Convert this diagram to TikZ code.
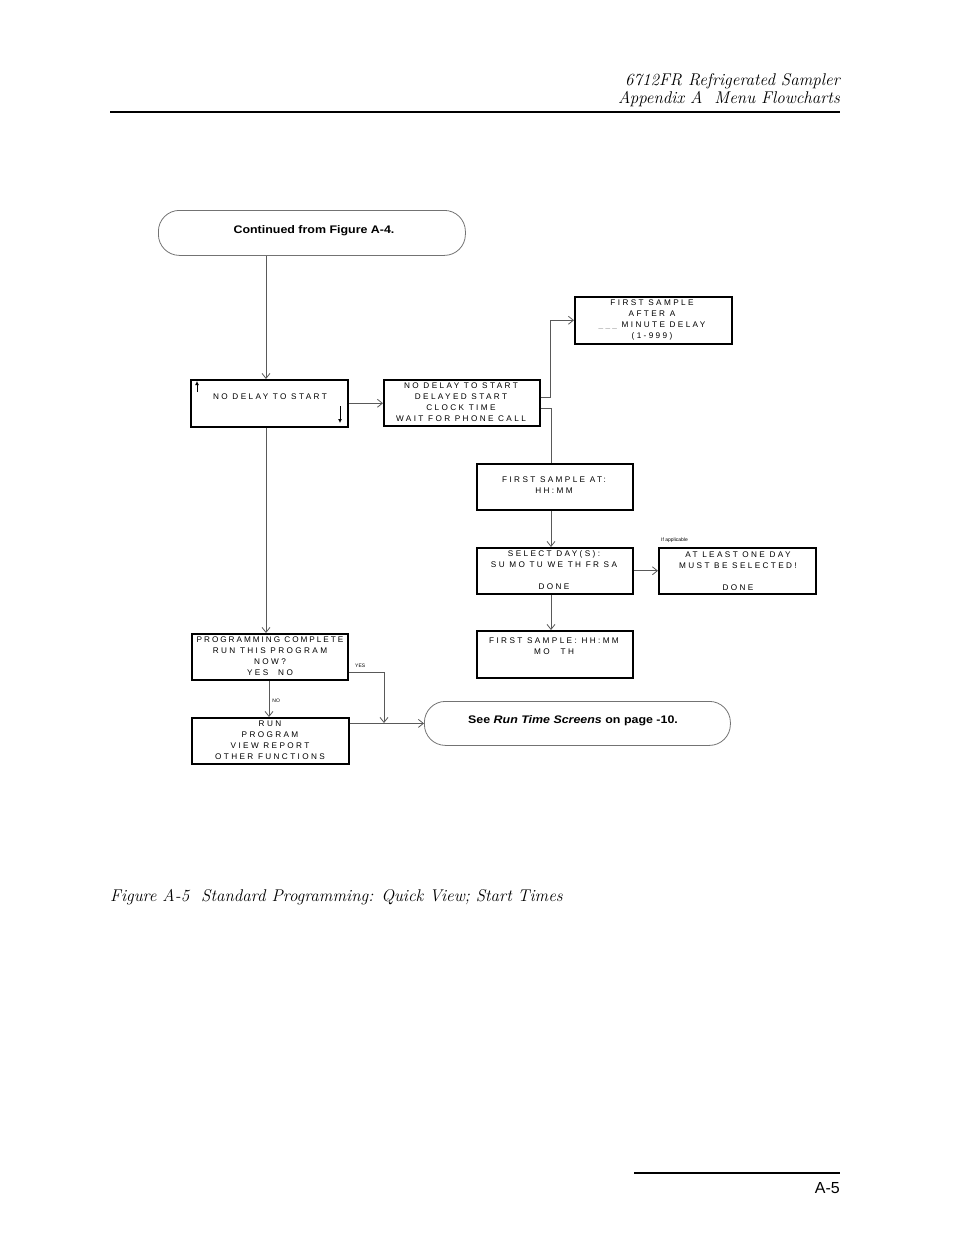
\documentclass[tikz,border=0pt]{standalone}
\usepackage{fontspec}
\newfontfamily\lcdfont[LetterSpace=29]{Liberation Sans}
\newfontfamily\lcdtight[LetterSpace=24]{Liberation Sans}
\newfontfamily\helv{Liberation Sans}
\newfontfamily\helvwide[FakeStretch=1.13]{Liberation Sans}
\usetikzlibrary{arrows.meta}
\begin{document}
\begin{tikzpicture}[x=1pt,y=-1pt,
  screen/.style={draw=black, line width=1.5pt, rectangle, inner sep=0pt, anchor=north west},
  terminal/.style={draw=black!55, line width=0.8pt, rectangle, rounded corners=21pt, inner sep=0pt, anchor=north west},
  lcd/.style={font=\lcdfont\fontsize{8.2}{11}\selectfont, align=center, inner sep=0pt, anchor=north},
  boldtxt/.style={font=\helvwide\bfseries\fontsize{11}{13}\selectfont, inner sep=0pt},
  tiny/.style={font=\helv\fontsize{5}{6}\selectfont, inner sep=0pt, anchor=west},
  conn/.style={draw=black!65, line width=0.8pt},
  arr/.style={conn, -{Straight Barb[length=5pt,width=8pt]}},
  serifit/.style={font=\itshape\fontsize{17}{19}\selectfont, inner sep=0pt}
]
\useasboundingbox (0,0) rectangle (954,1235);

% header
\node[serifit, anchor=base east] (h1) at (840,85) {6712FR Refrigerated Sampler};
\node[serifit, anchor=base east] (h2) at (840,103.5) {Appendix A\ \ Menu Flowcharts};
\draw[line width=1.4pt] (110,112) -- (840,112);

% boxes
\node[terminal, minimum width=307pt, minimum height=45pt] (cont) at (158,210) {};
\node[boldtxt] (contt) at (314,230.5) {Continued from Figure A-4.};

\node[screen, minimum width=157pt, minimum height=47pt] (nodelay) at (190,379) {};
\node[lcd] (nodelayt) at (270,394) {NO DELAY TO START};
\draw[line width=0.8pt, -{Latex[length=4pt,width=4pt]}] (197,392) -- (197,381);
\draw[line width=0.8pt, -{Latex[length=4pt,width=4pt]}] (340,406) -- (340,423);

\node[screen, minimum width=156pt, minimum height=46pt] (startmenu) at (383,379) {};
\node[lcd] (startmenut) at (461,382.5) {NO DELAY TO START\\DELAYED START\\CLOCK TIME\\WAIT FOR PHONE CALL};

\node[screen, minimum width=157pt, minimum height=47pt] (delay) at (574,296) {};
\node[lcd] (delayt) at (652,299.5) {FIRST SAMPLE\\AFTER A\\\textcolor{black!40}{\_\_\_} MINUTE DELAY\\(1-999)};

\node[screen, minimum width=156pt, minimum height=46pt] (clock) at (476,463) {};
\node[lcd] (clockt) at (554,477) {FIRST SAMPLE AT:\\HH:MM};

\node[screen, minimum width=156pt, minimum height=46pt] (days) at (476,547) {};
\node[lcd] (dayst) at (554,550.5) {SELECT DAY(S):\\SU MO TU WE TH FR SA\\[11pt]DONE};

\node[screen, minimum width=157pt, minimum height=46pt] (atleast) at (658,547) {};
\node[lcd] (atleastt) at (738,551.5) {AT LEAST ONE DAY\\MUST BE SELECTED!\\[11pt]DONE};
\node[tiny] (ifapp) at (661,540) {If applicable};

\node[screen, minimum width=156pt, minimum height=47pt] (firsthh) at (476,630) {};
\node[lcd] (firsthht) at (554,638) {FIRST SAMPLE: HH:MM\\MO\hspace{11pt}TH};

\node[screen, minimum width=156pt, minimum height=46pt] (prog) at (191,633) {};
\node[lcd] (progt) at (270,636.5) {{\lcdtight PROGRAMMING COMPLETE}\\RUN THIS PROGRAM\\NOW?\\YES\hspace{10pt}NO};

\node[screen, minimum width=157pt, minimum height=46pt] (runmenu) at (191,717) {};
\node[lcd] (runmenut) at (270,720.5) {RUN\\PROGRAM\\VIEW REPORT\\OTHER FUNCTIONS};

\node[terminal, minimum width=306pt, minimum height=44pt] (seebox) at (424,701) {};
\node[boldtxt] (seet) at (573,720.5) {See \textit{Run Time Screens} on page -10.};

% column coordinates
\coordinate (xa) at (266,0);
\coordinate (xn) at (269,0);
\coordinate (xk) at (551,0);
\coordinate (j) at (384,723);

% connectors
\draw[arr] (cont.south -| xa) -- (nodelay.north -| xa);
\draw[arr] (nodelay.east) -- (nodelay.east -| startmenu.west);
\draw[arr] ([yshift=5pt]startmenu.east) -- ++(10,0) |- (delay.west);
\draw[conn] ([yshift=-6pt]startmenu.east) -- ([yshift=-6pt]startmenu.east -| xk) -- (clock.north -| xk);
\draw[arr] (clock.south -| xk) -- (days.north -| xk);
\draw[arr] (days.east) -- (atleast.west);
\draw[arr] (days.south -| xk) -- (firsthh.north -| xk);
\draw[arr] (nodelay.south -| xa) -- (prog.north -| xa);
\draw[arr] (prog.south -| xn) -- node[tiny, pos=0.55, xshift=3pt] (nolab) {NO} (runmenu.north -| xn);
\draw[arr] ([yshift=-16pt]prog.east) -| (j);
\node[tiny] (yeslab) at (355,666) {YES};
\draw[arr] (runmenu.east |- seebox.west) -- (seebox.west);

% caption and footer
\node[serifit, anchor=base west] (cap) at (110,901) {Figure A-5\ \ Standard Programming: Quick View; Start Times};
\draw[line width=1.4pt] (634,1173) -- (840,1173);
\node[font=\helv\fontsize{16}{18}\selectfont, anchor=base east, inner sep=0pt] (pg) at (840,1193) {A-5};
\end{tikzpicture}
\end{document}
